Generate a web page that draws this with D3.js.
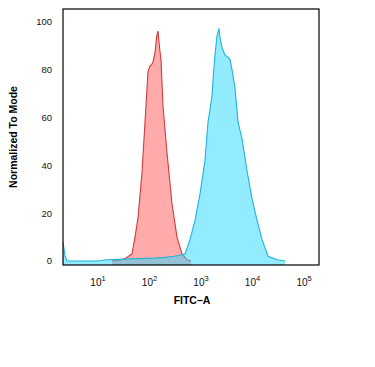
<!DOCTYPE html>
<html><head><meta charset="utf-8">
<script src="https://cdn.jsdelivr.net/npm/d3@7"></script>
<style>body{margin:0;background:#fff;}svg{display:block;font-family:"Liberation Sans",Arial,sans-serif;}</style>
</head><body>
<svg id="c" width="375" height="367"></svg>
<script>
// log10(FITC-A) positions and normalized-to-mode values
const isoLog = [1.29,1.447,1.544,1.68,1.738,1.796,1.874,1.932,1.99,2.03,2.06,2.087,2.126,2.16,2.184,2.22,2.243,2.28,2.36,2.456,2.553,2.65,2.748,2.825];
const isoVal = [0,0.3,1,3,10,18,37,58,79,81.5,82,83,87,94,96,88,84,65,45,24,10,3,0.5,0];
const posLog = [0.34,0.36,0.38,0.42,1.0,1.2,1.5,1.83,2.1,2.32,2.5,2.62,2.71,2.806,2.903,3.0,3.097,3.155,3.2,3.233,3.26,3.3,3.33,3.369,3.39,3.427,3.485,3.55,3.583,3.62,3.68,3.738,3.816,3.913,4.01,4.107,4.204,4.32,4.495,4.65];
const posVal = [8,5,2,0,0,0.5,0.8,1,1.2,1.5,2,2.5,3,9,17,28,42,58,64,69,78,88,94,97,93,89,86,85,84,80,72,58,51,37.5,26,17,9,2,0.5,0];
const xTicks = [1,2,3,4,5];
const yTicks = [0,20,40,60,80,100];

const svg = d3.select("#c");
const L=63,R=319,T=9,B=265;
const x = d3.scaleLinear().domain([0.34,5.31]).range([L,R]);
const y = d3.scaleLinear().domain([-1.67,105.2]).range([B,T]);

function series(lg,vl){return lg.map((d,i)=>[d,vl[i]]);}
const area = d3.area().x(d=>x(d[0])).y0(y(-1.67)).y1(d=>y(d[1])).curve(d3.curveLinear);
const line = d3.line().x(d=>x(d[0])).y(d=>y(d[1]));

const g = svg.append("g");
g.append("clipPath").attr("id","clp").append("rect").attr("x",L).attr("y",T).attr("width",R-L).attr("height",B-T);
const pg = g.append("g").attr("clip-path","url(#clp)");
const iso = series(isoLog,isoVal), pos = series(posLog,posVal);
pg.append("path").datum(iso).attr("d",area).attr("fill","rgba(255,110,110,0.58)");
pg.append("path").datum(iso).attr("d",line).attr("fill","none").attr("stroke","#d23a3a").attr("stroke-width",1.1);
pg.append("path").datum(pos).attr("d",area).attr("fill","rgba(40,215,255,0.5)");
pg.append("path").datum(pos).attr("d",line).attr("fill","none").attr("stroke","#20b4d8").attr("stroke-width",1.1);

g.append("rect").attr("x",L).attr("y",T).attr("width",R-L).attr("height",B-T).attr("fill","none").attr("stroke","#000").attr("stroke-width",1.2);

// y tick labels
g.selectAll(".yt").data(yTicks).enter().append("text")
 .attr("x",52).attr("y",d=>y(d)+3.5).attr("text-anchor","end").attr("font-size",9.5).attr("fill","#111").text(d=>d);

// x tick labels
const xt = g.selectAll(".xt").data(xTicks).enter().append("text")
 .attr("x",d=>x(d)+1).attr("y",286).attr("text-anchor","middle").attr("font-size",10).attr("fill","#111");
xt.append("tspan").text("10");
xt.append("tspan").attr("dy",-5).attr("font-size",7.5).text(d=>d);

g.append("text").attr("x",(L+R)/2+1).attr("y",304).attr("text-anchor","middle").attr("font-size",10.5).attr("font-weight","bold").text("FITC–A");
g.append("text").attr("transform","translate(17,"+((T+B)/2)+") rotate(-90)").attr("text-anchor","middle").attr("font-size",10.5).attr("font-weight","bold").text("Normalized To Mode");
</script>
</body></html>
